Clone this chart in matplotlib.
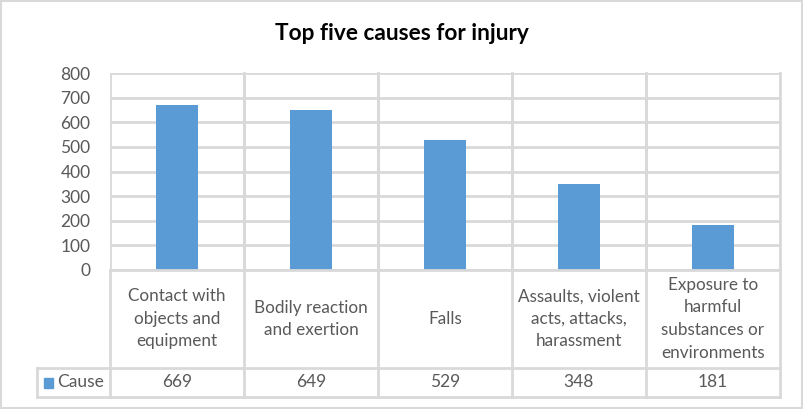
import matplotlib.pyplot as plt
from matplotlib.patches import Rectangle

categories = ['Contact with\nobjects and\nequipment', 'Bodily reaction\nand exertion', 'Falls',
              'Assaults, violent\nacts, attacks,\nharassment', 'Exposure to\nharmful\nsubstances or\nenvironments']
values = [669, 649, 529, 348, 181]
series_name = 'Cause'
yticks = [0, 100, 200, 300, 400, 500, 600, 700, 800]

W, H = 804, 409
bar_color = '#5b9bd5'
grid_color = '#d9d9d9'
text_color = '#595959'
plt.rcParams['font.family'] = ['Lato', 'DejaVu Sans']

fig = plt.figure(figsize=(W / 100, H / 100), dpi=100)

# plot area in pixels
left, right, top, bottom = 110, 780, 73, 270
ax = fig.add_axes([left / W, 1 - bottom / H, (right - left) / W, (bottom - top) / H])
n = len(values)
ax.bar(range(n), values, width=0.315, color=bar_color, zorder=3)
ax.set_xlim(-0.5, n - 0.5)
ax.set_ylim(0, 800)
ax.set_yticks(yticks)
ax.set_yticklabels([str(v) for v in yticks], fontsize=12.5, color=text_color)
ax.tick_params(axis='y', length=0, pad=14)
ax.set_xticks([])
ax.grid(axis='y', color=grid_color, linewidth=2, zorder=0)
for i in range(n + 1):
    ax.axvline(i - 0.5, color=grid_color, linewidth=2, zorder=1)
for s in ax.spines.values():
    s.set_visible(False)

# overlay in pixel coords for the data table and chart border
ov = fig.add_axes([0, 0, 1, 1], facecolor='none')
ov.set_xlim(0, W)
ov.set_ylim(H, 0)
ov.axis('off')

row1, row2, row3 = 270, 367.5, 397
cw = (right - left) / n
lw = 2
ov.plot([left, right], [row1, row1], color=grid_color, lw=lw)
ov.plot([37, right], [row2, row2], color=grid_color, lw=lw)
ov.plot([37, right], [row3, row3], color=grid_color, lw=lw)
ov.plot([37, 37], [row2, row3], color=grid_color, lw=lw)
for i in range(n + 1):
    x = left + i * cw
    ov.plot([x, x], [top if i > 0 else row1, row3], color=grid_color, lw=lw)

for i, (c, v) in enumerate(zip(categories, values)):
    cx = left + (i + 0.5) * cw
    ov.text(cx, (row1 + row2) / 2, c, ha='center', va='center', fontsize=12.3,
            color=text_color, linespacing=1.5)
    ov.text(cx, (row2 + row3) / 2, str(v), ha='center', va='center', fontsize=12.5, color=text_color)

ov.add_patch(Rectangle((44, 377.5), 9, 10, color=bar_color))
ov.text(57, (row2 + row3) / 2, series_name, ha='left', va='center', fontsize=12.5, color=text_color)

ov.text(W / 2, 33, 'Top five causes for injury', ha='center', va='center', fontsize=16.3,
        fontweight='bold', color='black')

ov.add_patch(Rectangle((1, 1), W - 2.5, H - 2.5, fill=False, edgecolor=grid_color, lw=1.5))

fig.savefig('out.png', dpi=100)
